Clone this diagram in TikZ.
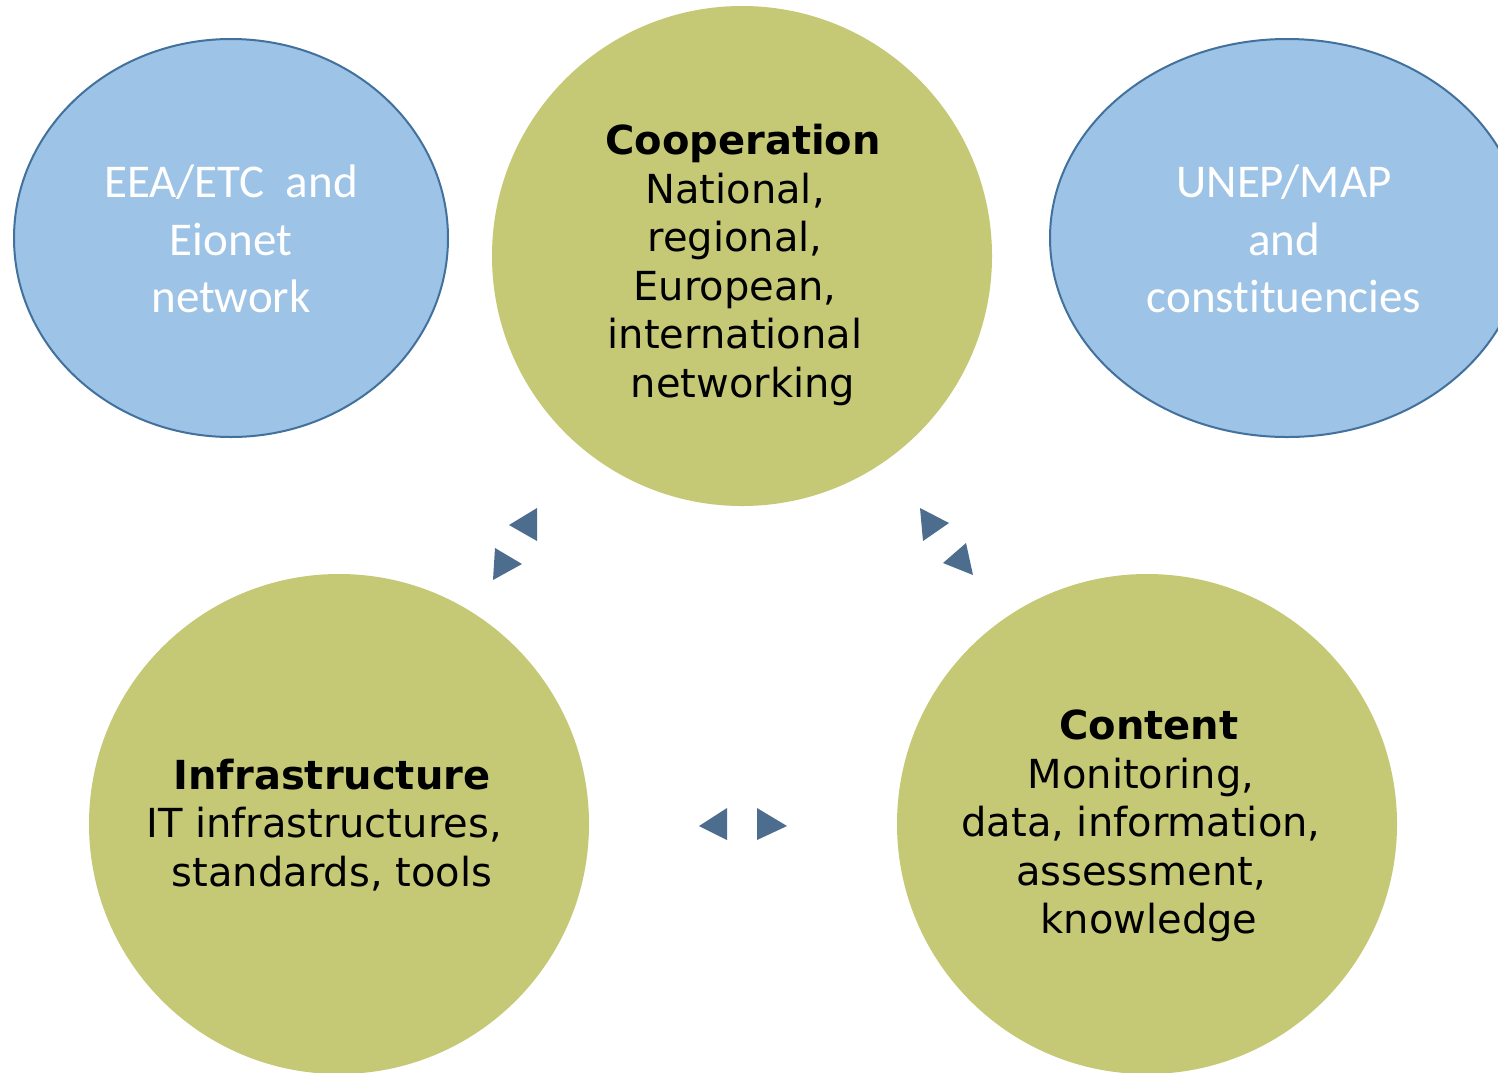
\documentclass[tikz,border=0pt]{standalone}
\usepackage{fontspec}
\setmainfont{DejaVu Sans}
\newfontfamily\calib[Ligatures=NoCommon]{Carlito}
\usetikzlibrary{shapes.geometric}
\definecolor{greenfill}{RGB}{197,201,117}
\definecolor{bluefill}{RGB}{157,195,230}
\definecolor{blueline}{RGB}{65,113,156}
\definecolor{tri}{RGB}{77,109,142}
\tikzset{
  greencirc/.style={circle, fill=greenfill, draw=none, minimum size=250pt, inner sep=0pt},
  blueell/.style={ellipse, fill=bluefill, draw=blueline, line width=1pt, inner sep=0pt},
  greentext/.style={align=center, font=\fontsize{20}{24.3}\selectfont, text=black, inner sep=0pt},
  bluetext/.style={align=center, font=\calib\fontsize{23.5}{28.8}\selectfont, text=white, inner sep=0pt},
  triangle/.style={fill=tri, draw=none}
}
\newcommand{\shiftr}{\hspace*{8pt}}
\begin{document}
\begin{tikzpicture}[x=0.5pt,y=-0.5pt]
\useasboundingbox (0,0) rectangle (1498,1072);
\clip (0,0) rectangle (1498,1072);
\fill[white] (0,0) rectangle (1498,1072);
% blue ellipses
\node[blueell, minimum width=217pt, minimum height=199pt] (eea) at (231,238) {};
\node[blueell, minimum width=237pt, minimum height=199pt] (unep) at (1287,238) {};
\node[bluetext] (eeatext) at (231,239) {EEA/ETC\ \ and\\Eionet\\network};
\node[bluetext] (uneptext) at (1284,239) {UNEP/MAP\\and\\constituencies};
% green circles
\node[greencirc] (coop) at (742,256) {};
\node[greencirc] (infra) at (339,824) {};
\node[greencirc] (content) at (1147,824) {};
\node[greentext] (cooptext) at (735,265) {\shiftr\textbf{Cooperation}\\National,\\regional,\\European,\\international\\\shiftr networking};
\node[greentext] (infratext) at (324,825) {\shiftr\textbf{Infrastructure}\\IT infrastructures,\\\shiftr standards, tools};
\node[greentext] (contenttext) at (1141,826) {\shiftr\textbf{Content}\\Monitoring,\\data, information,\\assessment,\\\shiftr knowledge};
% triangles
\fill[triangle] (509,525) -- (537,508) -- (537,541) -- cycle;
\fill[triangle] (522,564) -- (495,548) -- (493,580) -- cycle;
\fill[triangle] (920,508) -- (949,523) -- (923,541) -- cycle;
\fill[triangle] (966,543) -- (943,563) -- (973,575) -- cycle;
\fill[triangle] (699,826) -- (727,808) -- (727,840) -- cycle;
\fill[triangle] (757,808) -- (757,840) -- (787,826) -- cycle;
\end{tikzpicture}
\end{document}
